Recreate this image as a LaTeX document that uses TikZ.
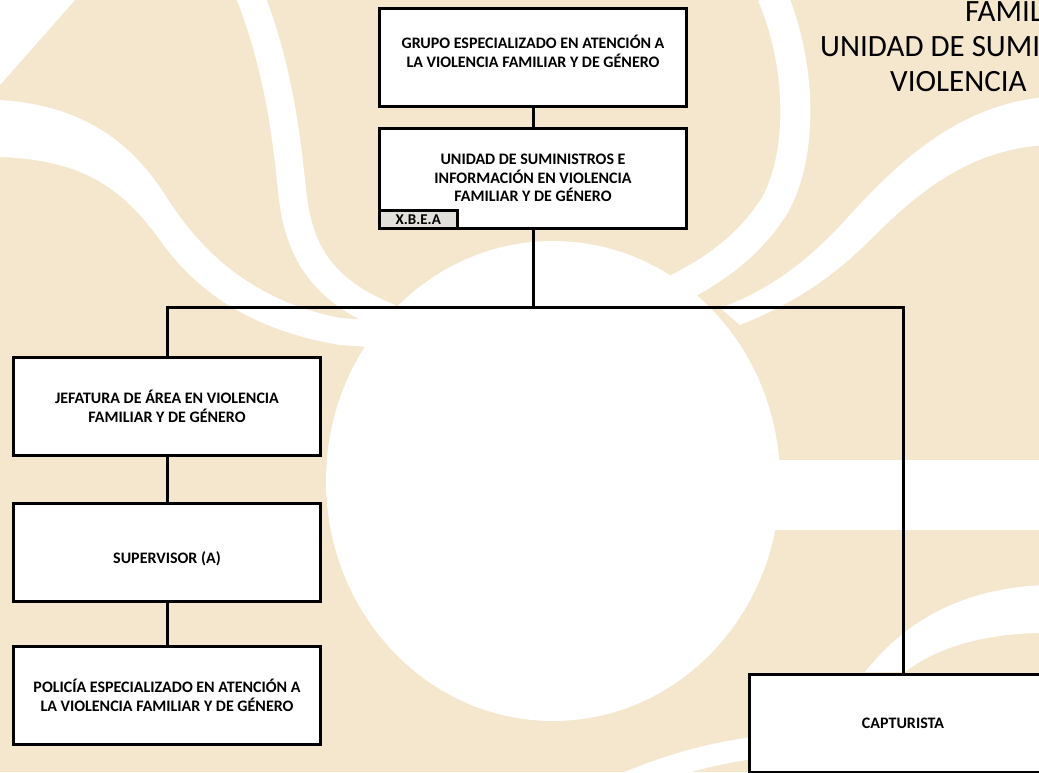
\documentclass[tikz,border=0pt]{standalone}
\usepackage{fontspec}
\setmainfont{Carlito}
\definecolor{beige}{RGB}{245,230,206}
\definecolor{tagfill}{RGB}{226,224,219}
\tikzset{
  orgbox/.style={draw=black, line width=3pt, fill=white, minimum width=307pt,
    minimum height=98pt, align=center, inner sep=0pt,
    font=\fontsize{16}{18.7}\selectfont\bfseries},
  tagbox/.style={draw=black, line width=2.5pt, fill=tagfill, minimum width=78pt,
    minimum height=18pt, inner sep=0pt, font=\fontsize{15}{17}\selectfont\bfseries},
  conn/.style={draw=black, line width=3pt, line cap=rect},
  band/.style={draw=white, line cap=butt},
  titletext/.style={font=\fontsize{31}{37}\selectfont, anchor=base west, inner sep=0pt},
}
\begin{document}
\begin{tikzpicture}[x=1pt, y=-1pt]
\clip (0,0) rectangle (1039,772);
\useasboundingbox (0,0) rectangle (1039,772);
% ---- background watermark ----
\fill[beige] (0,0) rectangle (1039,772);
\fill[white] (0,0) -- (75,0) -- (0,85) -- cycle;
\fill[white] (553,481) ellipse [x radius=227, y radius=240];
\fill[white] (0,100) .. controls (80,105) and (130,140) .. (165,195)
  .. controls (200,250) and (250,300) .. (340,318) -- (410,322) -- (410,350) -- (340,345)
  .. controls (250,330) and (195,290) .. (160,240)
  .. controls (120,185) and (80,160) .. (0,157) -- cycle;
\draw[band, line width=28pt] (250,-5) .. controls (275,60) and (285,120) .. (292,190)
  .. controls (298,250) and (320,290) .. (390,318);
\draw[band, line width=30pt] (772,-5) .. controls (800,60) and (805,150) .. (775,205)
  .. controls (740,260) and (690,285) .. (630,310);
\fill[white] (1045,97) .. controls (960,105) and (900,160) .. (850,215)
  .. controls (810,260) and (770,290) .. (720,308) -- (740,325)
  .. controls (790,305) and (830,280) .. (870,240)
  .. controls (920,190) and (970,150) .. (1045,145) -- cycle;
\fill[white] (700,460) rectangle (1045,530);
\fill[white] (1045,585) .. controls (970,588) and (910,615) .. (865,672) -- (905,672)
  .. controls (940,645) and (990,633) .. (1045,633) -- cycle;
\draw[band, line width=22pt] (610,790) .. controls (660,768) and (710,752) .. (770,746);
% ---- title (cut off at the right edge, as in the original) ----
\node[titletext] (t1) at (965,21) {FAMIL};
\node[titletext] (t2) at (820,56) {UNIDAD DE SUMI};
\node[titletext] (t3) at (890,91) {VIOLENCIA};
% ---- connector joints ----
\coordinate (bus) at (533,307);
\coordinate (busL) at (167,307);
\coordinate (busR) at (903,307);
% ---- boxes ----
\node[orgbox, text depth=11pt] (grupo) at (533,57) {GRUPO ESPECIALIZADO EN ATENCIÓN A\\LA VIOLENCIA FAMILIAR Y DE GÉNERO};
\node[orgbox, minimum height=100pt] (unidad) at (533,178) {UNIDAD DE SUMINISTROS E\\INFORMACIÓN EN VIOLENCIA\\FAMILIAR Y DE GÉNERO};
\node[tagbox, anchor=south west] (xbea) at (unidad.south west) {X.B.E.A};
\node[orgbox] (jef) at (167,406.5) {JEFATURA DE ÁREA EN VIOLENCIA\\FAMILIAR Y DE GÉNERO};
\node[orgbox, text height=26pt] (sup) at (167,552) {SUPERVISOR (A)};
\node[orgbox] (pol) at (167,695.5) {POLICÍA ESPECIALIZADO EN ATENCIÓN A\\LA VIOLENCIA FAMILIAR Y DE GÉNERO};
\node[orgbox] (cap) at (903,723) {CAPTURISTA};
% ---- connectors ----
\draw[conn] (grupo.south) -- (unidad.north);
\draw[conn] (unidad.south) -- (bus);
\draw[conn] (busL) -- (busR);
\draw[conn] (busL) -- (jef.north);
\draw[conn] (busR) -- (cap.north);
\draw[conn] (jef.south) -- (sup.north);
\draw[conn] (sup.south) -- (pol.north);
\end{tikzpicture}
\end{document}
